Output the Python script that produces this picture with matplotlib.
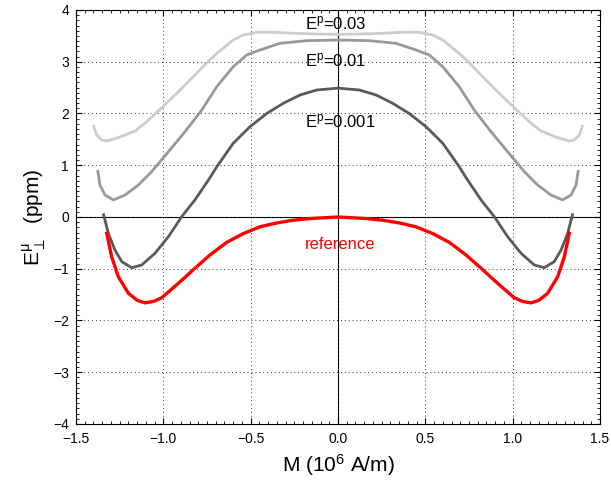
import matplotlib
matplotlib.use('Agg')
import matplotlib.pyplot as plt
from matplotlib.ticker import MultipleLocator

plt.rcParams['font.family'] = ['Liberation Sans', 'DejaVu Sans']
plt.rcParams['mathtext.default'] = 'regular'

# E^p = 0.03 (light gray)
x_03 = [-1.401, -1.382, -1.353, -1.324, -1.258, -1.162, -1.095, -1.009, -0.914, -0.819,
        -0.733, -0.694, -0.600, -0.542, -0.465, -0.370, -0.256, -0.122, 0.0,
        0.122, 0.256, 0.370, 0.465, 0.542, 0.600, 0.694, 0.733, 0.819, 0.914,
        1.009, 1.095, 1.162, 1.258, 1.324, 1.353, 1.382, 1.401]
y_03 = [1.778, 1.585, 1.488, 1.469, 1.533, 1.662, 1.842, 2.113, 2.420, 2.744,
        3.040, 3.160, 3.420, 3.517, 3.570, 3.570, 3.550, 3.536, 3.530,
        3.536, 3.550, 3.570, 3.570, 3.517, 3.420, 3.160, 3.040, 2.744, 2.420,
        2.113, 1.842, 1.662, 1.533, 1.469, 1.488, 1.585, 1.778]

# E^p = 0.01 (mid gray)
x_01 = [-1.376, -1.363, -1.334, -1.286, -1.219, -1.143, -1.067, -0.971, -0.876, -0.780,
        -0.694, -0.600, -0.523, -0.447, -0.332, -0.179, 0.0,
        0.179, 0.332, 0.447, 0.523, 0.600, 0.694, 0.780, 0.876, 0.971,
        1.067, 1.143, 1.219, 1.286, 1.334, 1.363, 1.376]
y_01 = [0.908, 0.618, 0.425, 0.330, 0.425, 0.618, 0.876, 1.262, 1.648, 2.068,
        2.518, 2.904, 3.130, 3.227, 3.356, 3.407, 3.420,
        3.407, 3.356, 3.227, 3.130, 2.904, 2.518, 2.068, 1.648, 1.262,
        0.876, 0.618, 0.425, 0.330, 0.425, 0.618, 0.908]

# E^p = 0.001 (dark gray)
x_001 = [-1.344, -1.315, -1.277, -1.238, -1.181, -1.124, -1.048, -0.971, -0.895, -0.819,
         -0.733, -0.694, -0.600, -0.504, -0.408, -0.313, -0.218, -0.122, 0.0,
         0.122, 0.218, 0.313, 0.408, 0.504, 0.600, 0.694, 0.733, 0.819, 0.895,
         0.971, 1.048, 1.124, 1.181, 1.238, 1.277, 1.315, 1.344]
y_001 = [0.070, -0.316, -0.638, -0.863, -0.980, -0.928, -0.702, -0.380, 0.006, 0.330,
         0.760, 0.972, 1.424, 1.745, 2.000, 2.197, 2.357, 2.454, 2.490,
         2.454, 2.357, 2.197, 2.000, 1.745, 1.424, 0.972, 0.760, 0.330, 0.006,
         -0.380, -0.702, -0.928, -0.980, -0.863, -0.638, -0.316, 0.070]

# reference (red)
x_ref = [-1.324, -1.296, -1.258, -1.200, -1.150, -1.105, -1.055, -1.009, -0.914, -0.819,
         -0.733, -0.637, -0.542, -0.447, -0.351, -0.256, -0.160, 0.0,
         0.160, 0.256, 0.351, 0.447, 0.542, 0.637, 0.733, 0.819, 0.914, 1.009,
         1.055, 1.105, 1.150, 1.200, 1.258, 1.296, 1.324]
y_ref = [-0.316, -0.766, -1.153, -1.475, -1.610, -1.660, -1.630, -1.560, -1.282, -0.990,
         -0.734, -0.490, -0.320, -0.190, -0.115, -0.062, -0.030, 0.0,
         -0.030, -0.062, -0.115, -0.190, -0.320, -0.490, -0.734, -0.990, -1.282, -1.560,
         -1.630, -1.660, -1.610, -1.475, -1.153, -0.766, -0.316]

fig = plt.figure(figsize=(6.11, 4.9), dpi=100)
ax = fig.add_axes([0.1244, 0.1347, 0.8576, 0.8449])

ax.axhline(0, color='black', lw=0.8, zorder=1)
ax.axvline(0, color='black', lw=0.8, zorder=1)

style = dict(solid_joinstyle='round', solid_capstyle='butt', zorder=3)
ax.plot(x_03, y_03, color='#cccccc', lw=2.0, **style)
ax.plot(x_01, y_01, color='#999999', lw=2.0, **style)
ax.plot(x_001, y_001, color='#5a5a5a', lw=2.0, **style)
ax.plot(x_ref, y_ref, color='red', lw=2.4, solid_joinstyle='round', zorder=4)

ax.text(-0.19, 3.75, 'E$^p$=0.03', fontsize=12, va='center', ha='left')
ax.text(-0.19, 3.03, 'E$^p$=0.01', fontsize=12, va='center', ha='left')
ax.text(-0.19, 1.84, 'E$^p$=0.001', fontsize=12, va='center', ha='left')
ax.text(-0.19, -0.54, 'reference', fontsize=12, va='center', ha='left', color='red')

ax.set_xlim(-1.5, 1.5)
ax.set_ylim(-4, 4)
ax.xaxis.set_major_locator(MultipleLocator(0.5))
ax.xaxis.set_minor_locator(MultipleLocator(0.05))
ax.yaxis.set_major_locator(MultipleLocator(1))
ax.yaxis.set_minor_locator(MultipleLocator(0.1))
ax.tick_params(which='both', direction='in', top=True, right=True, labelsize=10)
ax.tick_params(which='major', length=4)
ax.tick_params(which='minor', length=2)
ax.tick_params(axis='x', which='major', pad=6)
ax.tick_params(axis='y', which='major', pad=5)
ax.grid(True, which='major', linestyle=(0, (1, 3)), color='#333333', lw=0.7)

ax.set_xlabel('M (10$^6$ A/m)', fontsize=15)
ax.set_ylabel('E$^{\\mu}_{\\perp}$  (ppm)', fontsize=15)

fig.savefig('out.png', dpi=100)
